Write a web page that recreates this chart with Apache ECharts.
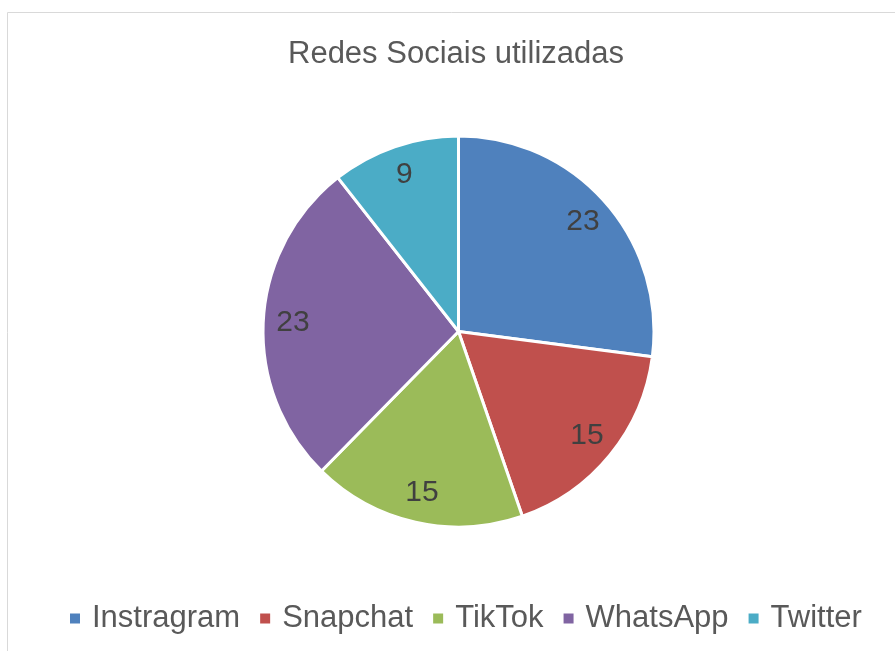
<!DOCTYPE html>
<html>
<head>
<meta charset="utf-8">
<script src="https://cdn.jsdelivr.net/npm/echarts@6/dist/echarts.min.js"></script>
<style>
    html, body { margin: 0; padding: 0; background: #fff; }
    #chart { width: 895px; height: 651px; }
</style>
</head>
<body>
<div id="chart"></div>
<script>
const categories = ['Instragram', 'Snapchat', 'TikTok', 'WhatsApp', 'Twitter']
const values = [23, 15, 15, 23, 9]
const colors = ['#4F81BD', '#C0504D', '#9BBB59', '#8064A2', '#4BACC6']

const pieData = categories.map((name, i) => ({ name: name, value: values[i] }))

const chart = echarts.init(document.getElementById('chart'), null, { renderer: 'canvas' })

chart.setOption({
    animation: false,
    color: colors,
    textStyle: { fontFamily: 'Liberation Sans, Arial, sans-serif' },
    title: {
        text: 'Redes Sociais utilizadas',
        left: 283,
        top: 34,
        textStyle: {
            color: '#595959',
            fontSize: 31,
            fontWeight: 'normal',
        },
    },
    legend: {
        bottom: 12,
        left: 63,
        icon: 'rect',
        itemWidth: 12,
        itemHeight: 12,
        itemGap: 18,
        textStyle: {
            color: '#595959',
            fontSize: 31,
            padding: [0, 0, 0, 6],
        },
        data: categories,
    },
    graphic: [{
        type: 'rect',
        silent: true,
        shape: { x: 7.5, y: 12.5, width: 1000, height: 1000 },
        style: { fill: 'none', stroke: '#D9D9D9', lineWidth: 1 },
    }],
    series: [
        {
            // the pie itself
            type: 'pie',
            center: [458.5, 331.5],
            radius: [0, 195.5],
            startAngle: 90,
            clockwise: true,
            label: { show: false },
            labelLine: { show: false },
            itemStyle: { borderColor: '#fff', borderWidth: 3 },
            emphasis: { disabled: true },
            data: pieData,
        },
        {
            // transparent ring only used to place the labels near the rim
            type: 'pie',
            silent: true,
            center: [458.5, 331.5],
            radius: [130, 195.5],
            startAngle: 90,
            clockwise: true,
            itemStyle: { color: 'rgba(0,0,0,0)', borderWidth: 0 },
            label: {
                show: true,
                position: 'inside',
                formatter: '{c}',
                color: '#404040',
                fontSize: 30,
            },
            labelLine: { show: false },
            emphasis: { disabled: true },
            data: pieData,
        },
    ],
})
</script>
</body>
</html>
